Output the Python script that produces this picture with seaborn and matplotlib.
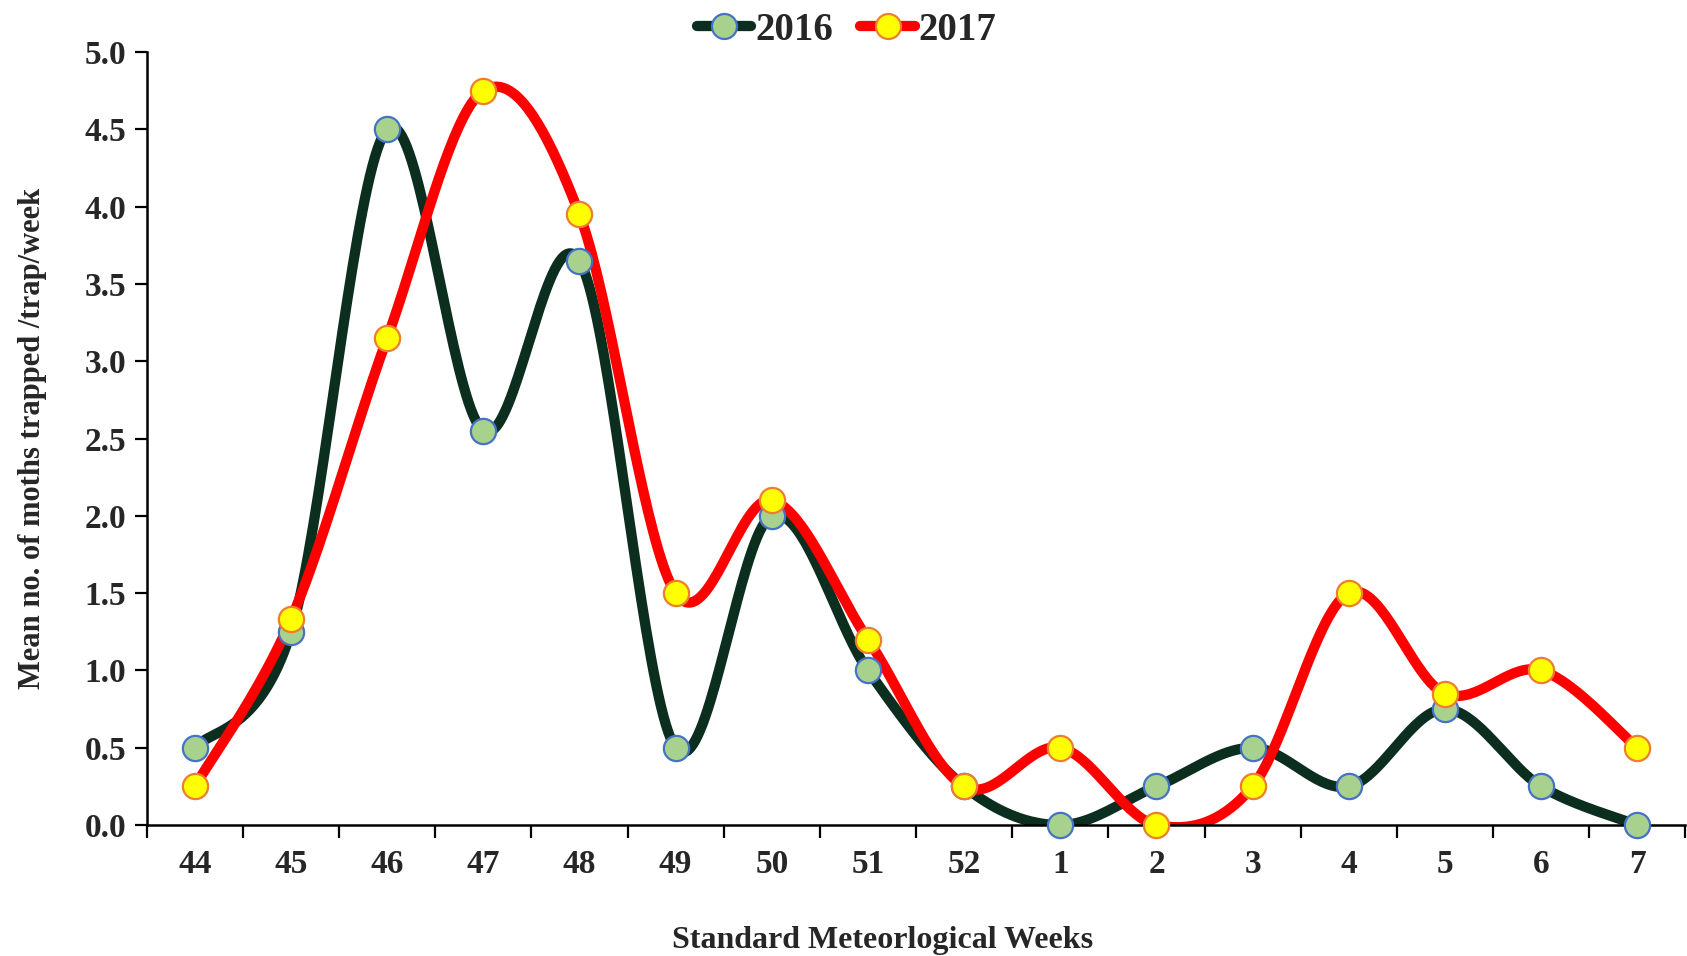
import numpy as np
import pandas as pd
import matplotlib
matplotlib.use("Agg")
import matplotlib.pyplot as plt
import seaborn as sns
from matplotlib.lines import Line2D

weeks = ["44", "45", "46", "47", "48", "49", "50", "51", "52", "1", "2", "3", "4", "5", "6", "7"]
y2016 = [0.5, 1.25, 4.5, 2.55, 3.65, 0.5, 2.0, 1.0, 0.25, 0.0, 0.25, 0.5, 0.25, 0.75, 0.25, 0.0]
y2017 = [0.25, 1.33, 3.15, 4.75, 3.95, 1.5, 2.1, 1.2, 0.25, 0.5, 0.0, 0.25, 1.5, 0.85, 1.0, 0.5]
yticks = [0.0, 0.5, 1.0, 1.5, 2.0, 2.5, 3.0, 3.5, 4.0, 4.5, 5.0]

sns.set_theme(style="white")
plt.rcParams['font.family'] = ['Liberation Serif', 'DejaVu Serif']
plt.rcParams['font.weight'] = 'bold'


def smooth(xs, ys, n=40):
    """Excel-like smoothed line (Catmull-Rom Bezier) through the points."""
    xs = np.asarray(xs, float)
    ys = np.asarray(ys, float)
    P = np.column_stack([xs, ys])
    Pe = np.vstack([P[0], P, P[-1]])
    out = []
    t = np.linspace(0, 1, n)[:, None]
    for i in range(len(P) - 1):
        p0, p3 = P[i], P[i + 1]
        c1 = p0 + (Pe[i + 2] - Pe[i]) / 6.0
        c2 = p3 - (Pe[i + 3] - Pe[i + 1]) / 6.0
        seg = ((1 - t) ** 3) * p0 + 3 * ((1 - t) ** 2) * t * c1 + 3 * (1 - t) * t ** 2 * c2 + t ** 3 * p3
        out.append(seg if i == 0 else seg[1:])
    out = np.vstack(out)
    return out[:, 0], out[:, 1]


fig = plt.figure(figsize=(16.87, 9.56), dpi=100)
ax = fig.add_axes([0.087, 0.137, 0.912, 0.8085])

xpos = np.arange(len(weeks))
series = [
    ("2016", y2016, "#0C2E1F", "#A9D18E", "#4472C4"),
    ("2017", y2017, "#FF0000", "#FFFF00", "#ED7D31"),
]

handles = []
for name, vals, lc, fc, ec in series:
    sx, sy = smooth(xpos, vals)
    dense = pd.DataFrame({"x": sx, "y": sy})
    sns.lineplot(data=dense, x="x", y="y", ax=ax, color=lc, linewidth=7.4,
                 sort=False, estimator=None, solid_capstyle="round", zorder=2)
    pts = pd.DataFrame({"x": xpos, "y": vals})
    sns.scatterplot(data=pts, x="x", y="y", ax=ax, s=330, color=fc,
                    edgecolor=ec, linewidth=1.6, zorder=3, clip_on=False)
    handles.append(Line2D([0], [0], color=lc, linewidth=7.4, marker="o",
                          markersize=18, markerfacecolor=fc, markeredgecolor=ec,
                          markeredgewidth=1.6, solid_capstyle="round", label=name))

ax.set_xlim(-0.5, len(weeks) - 0.5)
ax.set_ylim(0, 5.0)
ax.set_yticks(yticks)
ax.set_yticklabels([f"{v:.1f}" for v in yticks], fontsize=24, fontweight="bold")
ax.set_xticks(xpos)
ax.set_xticklabels(weeks, fontsize=24, fontweight="bold")
ax.set_xticks(np.arange(-0.5, len(weeks), 1.0), minor=True)
ax.tick_params(axis="x", which="major", length=0, pad=17)
ax.tick_params(axis="x", which="minor", length=9, width=1.6, direction="out", color="black", bottom=True)
ax.tick_params(axis="y", which="major", length=9, width=1.6, direction="out", color="black", left=True, pad=6)

for s in ["top", "right"]:
    ax.spines[s].set_visible(False)
for s in ["left", "bottom"]:
    ax.spines[s].set_color("black")
    ax.spines[s].set_linewidth(1.8)

ax.set_xlabel("Standard Meteorlogical Weeks", fontsize=23, fontweight="bold")
ax.set_ylabel("Mean no. of moths trapped /trap/week", fontsize=22, fontweight="bold")
ax.xaxis.label.set_va("center")
ax.yaxis.label.set_va("center")
ax.xaxis.set_label_coords(0.478, -0.15)
ax.yaxis.set_label_coords(-0.074, 0.5)

fig.legend(handles=handles, loc="center", bbox_to_anchor=(0.502, 0.968), ncol=2,
           frameon=False, prop={"family": "Liberation Serif", "weight": "bold", "size": 28},
           handlelength=1.4, handletextpad=0.1, columnspacing=0.7)

fig.savefig("out.png", dpi=100)
